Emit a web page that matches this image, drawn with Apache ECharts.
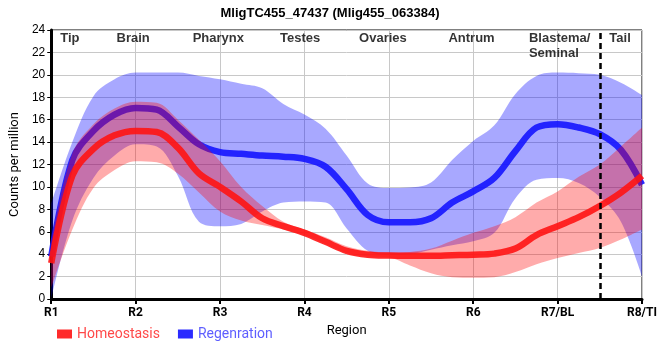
<!DOCTYPE html>
<html><head><meta charset="utf-8">
<script src="https://cdn.jsdelivr.net/npm/echarts@6/dist/echarts.min.js"></script>
<style>html,body{margin:0;padding:0;background:#fff}#c{width:660px;height:360px}</style>
</head><body><div id="c"></div>
<script>
const tickLabels = ['R1','R2','R3','R4','R5','R6','R7/BL','R8/TI'];
const xs = [1,1.25,1.5,1.75,2,2.25,2.5,2.75,3,3.25,3.5,3.75,4,4.25,4.5,4.75,5,5.25,5.5,5.75,6,6.25,6.5,6.75,7,7.25,7.5,7.75,8];
const homeoMid  = [3.2,11.0,13.4,14.6,15.0,14.9,13.5,11.2,10.0,8.7,7.2,6.5,5.9,5.1,4.3,3.95,3.87,3.85,3.85,3.9,3.95,4.05,4.5,5.7,6.5,7.3,8.3,9.5,11.0];
const homeoLow  = [1.0,6.2,9.9,11.5,12.3,12.2,11.2,9.5,7.8,7.0,6.6,6.2,5.7,4.9,4.1,3.8,3.7,3.0,2.3,1.95,1.9,1.95,2.4,3.1,3.65,4.1,4.55,5.3,6.2];
const homeoHigh = [5.0,13.0,15.6,17.0,17.6,17.5,16.0,14.2,12.3,10.0,8.3,6.9,6.2,5.5,4.7,4.3,4.15,4.2,4.5,5.2,5.9,6.5,7.3,8.6,9.6,10.9,12.0,13.6,15.3];
const regenMid  = [3.8,12.4,15.0,16.45,17.05,16.9,15.4,13.8,13.1,12.95,12.8,12.7,12.5,11.8,9.8,7.5,6.85,6.85,7.2,8.6,9.6,10.8,13.2,15.3,15.6,15.3,14.7,13.3,10.2];
const regenLow  = [0,7.0,10.8,12.8,13.8,13.6,11.0,6.9,6.5,6.7,7.8,8.6,8.7,8.6,6.3,4.3,3.95,4.0,4.4,4.8,5.15,5.9,9.0,10.65,10.8,10.35,9.1,6.9,2.0];
const regenHigh = [8.5,14.0,18.1,19.6,20.2,20.2,20.2,19.9,19.6,19.2,18.8,17.4,16.45,15.2,12.8,10.3,9.9,9.95,10.4,12.4,14.1,15.5,18.3,19.9,20.2,20.15,20.0,19.3,18.2];
const regionNames = ['Tip','Brain','Pharynx','Testes','Ovaries','Antrum','Blastema/\nSeminal','Tail'];
const regionX = [1.22,1.97,2.98,3.95,4.93,5.98,6.66,7.74];
const dividerX = 7.5;

const cats = xs.map(String);
const diff = (hi, lo) => hi.map((v,i)=> +(v - lo[i]).toFixed(3));

function band(name, lo, hi, color, stack, z){
  return [
    {name: name+'_lo', type:'line', stack, smooth:0.35, symbol:'none', data: lo,
     lineStyle:{opacity:0}, silent:true, z},
    {name: name+'_band', type:'line', stack, smooth:0.35, symbol:'none', data: diff(hi, lo),
     lineStyle:{opacity:0}, areaStyle:{color, opacity:1}, silent:true, z}
  ];
}
const isTick = (i) => Number.isInteger(xs[i]);

const chart = echarts.init(document.getElementById('c'), null, {renderer:'canvas'});
chart.setOption({
  animation:false,
  title:{text:'MligTC455_47437 (Mlig455_063384)', left:'center', top:2,
    textStyle:{fontFamily:'Liberation Sans', fontWeight:'bold', fontSize:13, color:'#000'}},
  grid:{left:50, right:10, top:30, bottom:61, show:true, borderColor:'#000', borderWidth:1},
  legend:{left:52, top:322, icon:'rect', itemWidth:15, itemHeight:9, itemGap:18,
    textStyle:{fontFamily:'Roboto', fontSize:14},
    data:[{name:'Homeostasis', textStyle:{color:'rgba(255,40,40,0.85)'}},
          {name:'Regenration', textStyle:{color:'rgba(40,40,255,0.75)'}}]},
  xAxis:[{type:'category', data:cats, boundaryGap:false,
    name:'Region', nameLocation:'middle', nameGap:24,
    nameTextStyle:{fontFamily:'Roboto', fontSize:13, color:'#000'},
    axisLine:{lineStyle:{color:'#000', width:3}},
    axisTick:{show:true, length:5, interval:(i)=>isTick(i), lineStyle:{color:'#000', width:2}},
    axisLabel:{color:'#000', fontFamily:'Roboto', fontWeight:'bold', fontSize:12, margin:8,
      interval:(i)=>isTick(i), formatter:(v)=>tickLabels[Math.round(+v)-1] || ''},
    splitLine:{show:true, interval:(i)=>isTick(i), lineStyle:{color:'#c8c8c8', width:1}}},
   {type:'value', min:1, max:8, show:false, position:'bottom'}],
  yAxis:{type:'value', min:0, max:24, interval:2,
    name:'Counts per million', nameLocation:'middle', nameGap:28, nameRotate:90,
    nameTextStyle:{fontFamily:'Roboto', fontSize:13, color:'#000'},
    axisLine:{show:true, lineStyle:{color:'#000', width:3}},
    axisTick:{show:true, length:4, lineStyle:{color:'#000'}},
    axisLabel:{color:'#000', fontFamily:'Liberation Sans', fontSize:12, margin:6},
    splitLine:{show:true, lineStyle:{color:'#c8c8c8', width:1}}},
  series:[
    ...band('regen', regenLow, regenHigh, 'rgba(0,0,255,0.34)', 'sb', 1),
    {name:'Regenration', type:'line', smooth:0.35, symbol:'none', data: regenMid,
     itemStyle:{color:'rgba(20,20,255,0.9)'}, lineStyle:{color:'rgba(20,20,255,0.9)', width:6.5}, z:2},
    ...band('homeo', homeoLow, homeoHigh, 'rgba(255,0,0,0.33)', 'sr', 3),
    {name:'Homeostasis', type:'line', smooth:0.35, symbol:'none', data: homeoMid,
     itemStyle:{color:'rgba(255,20,20,0.9)'}, lineStyle:{color:'rgba(255,20,20,0.9)', width:6.5}, z:4},
    {name:'regions', type:'scatter', xAxisIndex:1, symbolSize:0, silent:true, z:6,
     data: regionNames.map((n,i)=>({value:[regionX[i], 23.2], name:n,
       label:{align: n.indexOf('\n')>=0 ? 'left':'center', verticalAlign:'top',
              offset:[0,-8]}})),
     label:{show:true, position:'inside', formatter:(p)=>p.name, color:'#000',
       fontFamily:'Liberation Sans', fontWeight:'bold', fontSize:13, lineHeight:15},
     markLine:{silent:true, symbol:'none', label:{show:false},
       lineStyle:{color:'#000', width:2.5, type:[6,4]}, data:[{xAxis:dividerX}]}}
  ]
});
</script></body></html>
